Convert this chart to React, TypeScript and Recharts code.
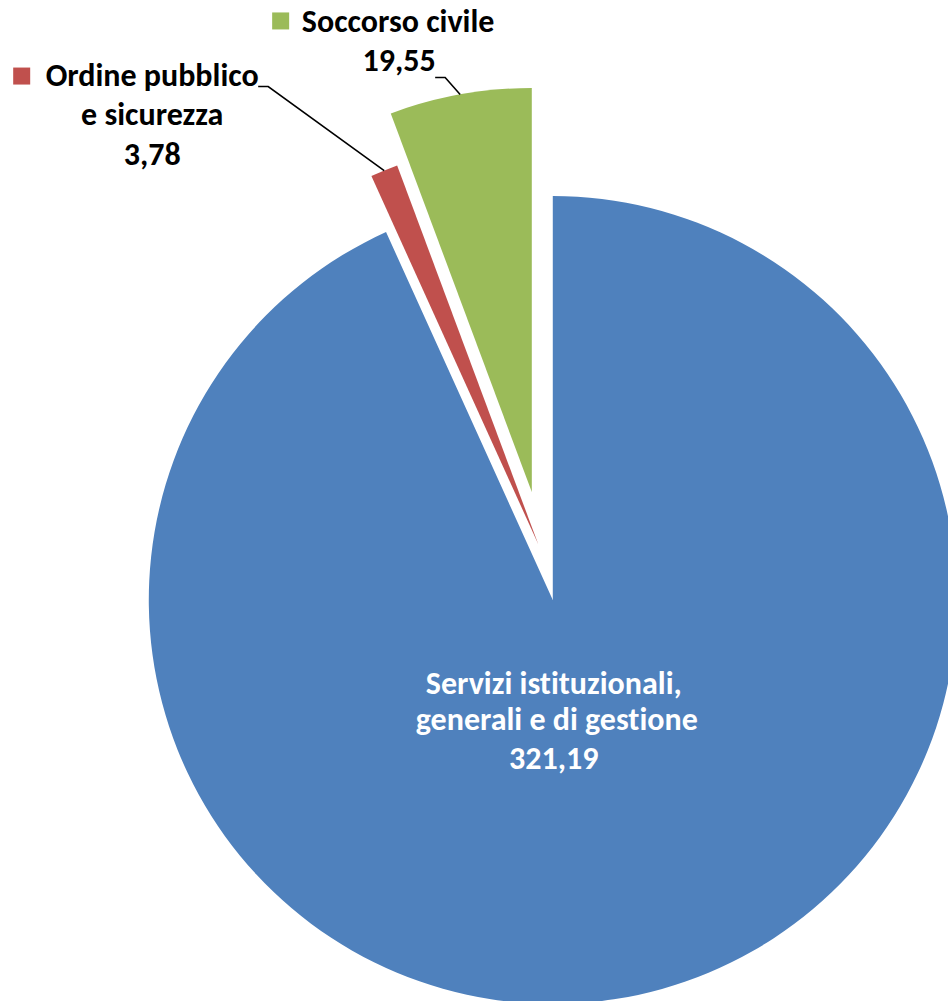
import { PieChart, Pie, Cell } from "recharts";

// Spesa per missione
const categories = [
  "Servizi istituzionali, generali e di gestione",
  "Ordine pubblico e sicurezza",
  "Soccorso civile",
];
const values = [321.19, 3.78, 19.55];
const valueLabels = ["321,19", "3,78", "19,55"];
const colors = ["#4F81BD", "#C0504D", "#9BBB59"];
const explode = [44, 14, 66]; // distanza di esplosione per fetta

const FONT = "Carlito, Calibri, Lato, sans-serif";
const FS = 32;
const CX = 543.5;
const CY = 557;
const R = 404;
const RAD = Math.PI / 180;
const noLig = { fontVariantLigatures: "none" as const };

const data = categories.map((name, i) => ({ name, value: values[i] }));

// angolo medio di ogni fetta (gradi in senso orario dalle ore 12)
const total = values.reduce((a, b) => a + b, 0);
const midAngles = values.map((v, i) => {
  const before = values.slice(0, i).reduce((a, b) => a + b, 0);
  return ((before + v / 2) / total) * 360;
});

function arcPoint(p: any) {
  const a = -p.midAngle * RAD;
  return { x: p.cx + p.outerRadius * Math.cos(a), y: p.cy + p.outerRadius * Math.sin(a) };
}

function BlueLabel(p: any) {
  if (p.index !== 0) return null;
  const x = p.cx + 1;
  const y = p.cy;
  return (
    <text x={x} y={y} textAnchor="middle" fill="#fff" fontFamily={FONT} fontWeight="bold" fontSize={FS} style={noLig}>
      <tspan x={x} y={y + 94}>Servizi istituzionali,</tspan>
      <tspan x={x + 3} y={y + 130}>generali e di gestione</tspan>
      <tspan x={x} y={y + 169}>{valueLabels[0]}</tspan>
    </text>
  );
}

function RedLabel(p: any) {
  if (p.index !== 1) return null;
  const { x, y } = arcPoint(p);
  return (
    <g>
      <polyline
        points={`${x},${y} ${x - 116},${y - 84} ${x - 126},${y - 84}`}
        fill="none"
        stroke="#000"
        strokeWidth={1.6}
      />
      <rect x={x - 371} y={y - 103} width={17} height={17} fill={colors[1]} />
      <text textAnchor="middle" fill="#000" fontFamily={FONT} fontWeight="bold" fontSize={FS} style={noLig}>
        <tspan x={x - 232} y={y - 85}>Ordine pubblico</tspan>
        <tspan x={x - 232} y={y - 46}>e sicurezza</tspan>
        <tspan x={x - 232} y={y - 6}>{valueLabels[1]}</tspan>
      </text>
    </g>
  );
}

function GreenLabel(p: any) {
  if (p.index !== 2) return null;
  const { x, y } = arcPoint(p);
  return (
    <g>
      <polyline
        points={`${x},${y} ${x - 15},${y - 17} ${x - 25},${y - 17}`}
        fill="none"
        stroke="#000"
        strokeWidth={1.6}
      />
      <rect x={x - 188} y={y - 82} width={17} height={17} fill={colors[2]} />
      <text textAnchor="middle" fill="#000" fontFamily={FONT} fontWeight="bold" fontSize={FS} style={noLig}>
        <tspan x={x - 62} y={y - 62}>Soccorso civile</tspan>
        <tspan x={x - 61} y={y - 23}>{valueLabels[2]}</tspan>
      </text>
    </g>
  );
}

const labelFns = [BlueLabel, RedLabel, GreenLabel];

export default function App() {
  return (
    <div
      style={{
        position: "absolute",
        left: 0,
        top: 0,
        width: 948,
        height: 1001,
        overflow: "hidden",
        background: "#fff",
      }}
    >
      <PieChart width={948} height={1001} margin={{ top: 0, right: 0, bottom: 0, left: 0 }}>
        {values.map((_, i) => {
          const m = midAngles[i] * RAD;
          return (
            <Pie
              key={i}
              data={data}
              dataKey="value"
              nameKey="name"
              cx={CX + explode[i] * Math.sin(m)}
              cy={CY - explode[i] * Math.cos(m)}
              outerRadius={R}
              startAngle={90}
              endAngle={-270}
              stroke="none"
              isAnimationActive={false}
              label={labelFns[i]}
              labelLine={false}
            >
              {data.map((_, j) => (
                <Cell key={j} fill={j === i ? colors[i] : "transparent"} />
              ))}
            </Pie>
          );
        })}
      </PieChart>
    </div>
  );
}
